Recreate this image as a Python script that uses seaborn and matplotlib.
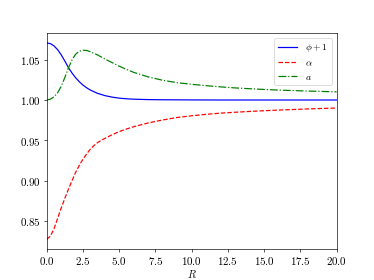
import numpy as np
import pandas as pd
import matplotlib
matplotlib.use("Agg")
import matplotlib.pyplot as plt
import seaborn as sns

R_phi = [0, 0.25, 0.5, 0.75, 1.0, 1.25, 1.5, 1.75, 2.0, 2.25, 2.5, 2.75, 3.0, 3.5, 4.0,
         4.5, 5.0, 5.5, 6.0, 7.0, 8.0, 9.0, 10, 12, 14, 16, 18, 20]
phi_plus_1 = [1.0708, 1.0700, 1.0672, 1.0625, 1.0560, 1.0483, 1.0400, 1.0333, 1.0275,
              1.0226, 1.0185, 1.0152, 1.0124, 1.0083, 1.0055, 1.0036, 1.0023, 1.0015,
              1.0010, 1.0005, 1.0003, 1.0002, 1.0001, 1.0000, 1.0000, 1.0000, 1.0000, 1.0000]

R_alpha = [0, 0.25, 0.5, 0.75, 1.0, 1.25, 1.5, 1.75, 2.0, 2.25, 2.5, 2.75, 3.0, 3.25, 3.5,
           3.75, 4.0, 4.5, 5.0, 5.5, 6.0, 7.0, 8.0, 9.0, 10, 11, 12, 13, 14, 15, 16, 17,
           18, 19, 20]
alpha = [0.8270, 0.8310, 0.8400, 0.8530, 0.8660, 0.8780, 0.8895, 0.9000, 0.9105, 0.9190,
         0.9265, 0.9330, 0.9388, 0.9433, 0.9470, 0.9498, 0.9522, 0.9568, 0.9607, 0.9640,
         0.9668, 0.9715, 0.9752, 0.9783, 0.9804, 0.9822, 0.9837, 0.9848, 0.9858, 0.9867,
         0.9875, 0.9882, 0.9889, 0.9895, 0.9900]

R_a = [0, 0.25, 0.5, 0.75, 1.0, 1.25, 1.5, 1.75, 2.0, 2.25, 2.5, 2.75, 3.0, 3.5, 4.0,
       4.5, 5.0, 5.5, 6.0, 7.0, 8.0, 9.0, 10, 11, 12, 13, 14, 15, 16, 17, 18, 19, 20]
a_vals = [1.0000, 1.0010, 1.0040, 1.0090, 1.0170, 1.0280, 1.0400, 1.0500, 1.0570, 1.0605,
          1.0618, 1.0615, 1.0600, 1.0560, 1.0510, 1.0465, 1.0420, 1.0380, 1.0343, 1.0287,
          1.0245, 1.0215, 1.0195, 1.0178, 1.0163, 1.0150, 1.0140, 1.0131, 1.0123, 1.0117,
          1.0111, 1.0106, 1.0101]

labels = [r"$\phi + 1$", r"$\alpha$", r"$a$"]

plt.rcParams.update({
    "font.family": "serif",
    "font.serif": ["cmr10"],
    "mathtext.fontset": "cm",
    "axes.unicode_minus": False,
    "axes.formatter.use_mathtext": True,
    "font.size": 13,
})

fig, ax = plt.subplots(figsize=(6.4, 4.8), dpi=58.4375)

sns.lineplot(x=R_phi, y=phi_plus_1, ax=ax, color="blue", linestyle="-", label=labels[0])
sns.lineplot(x=R_alpha, y=alpha, ax=ax, color="red", linestyle="--", label=labels[1])
sns.lineplot(x=R_a, y=a_vals, ax=ax, color="green", linestyle="-.", label=labels[2])

ax.set_xlim(0, 20)
ax.set_xlabel(r"$R$", fontsize=13, labelpad=1)
ax.tick_params(labelsize=13.5)
ax.legend(loc="upper right", fontsize=12)

fig.savefig("out.png", dpi=58.4375)
